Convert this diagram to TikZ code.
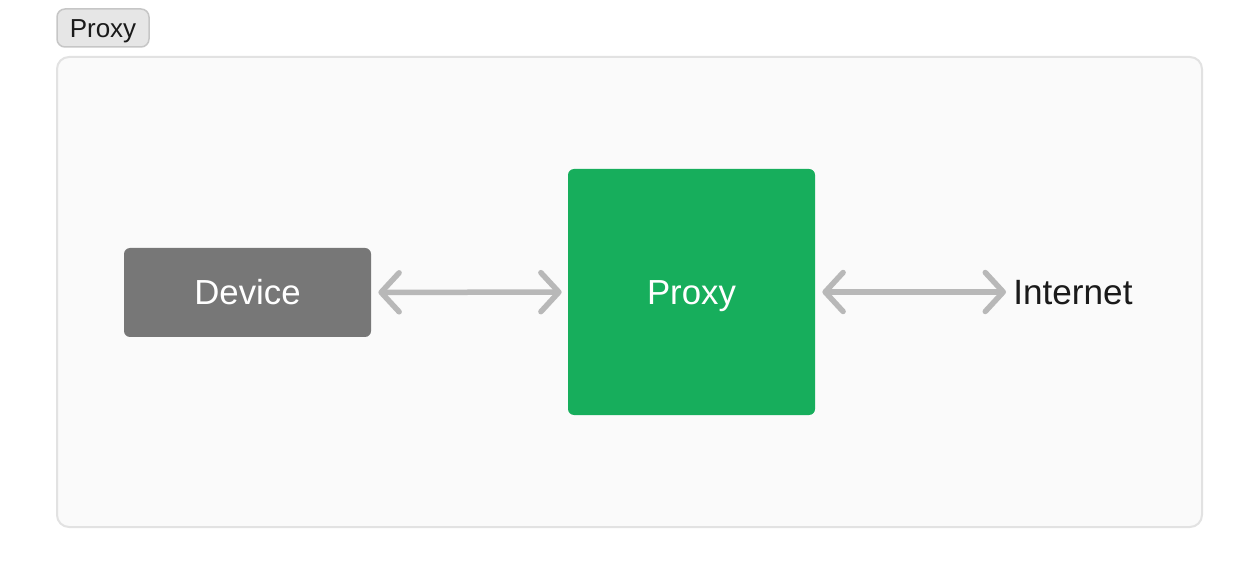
\documentclass[tikz,border=0pt]{standalone}
\usepackage{fontspec}
\setmainfont{Liberation Sans}
\usepackage{tikz}
\usetikzlibrary{arrows.meta,positioning}
\definecolor{khungnen}{HTML}{FAFAFA}
\definecolor{khungvien}{HTML}{E2E2E2}
\definecolor{nhanten}{HTML}{E6E6E6}
\definecolor{nhanvien}{HTML}{C6C6C6}
\definecolor{thietbi}{HTML}{777777}
\definecolor{proxyxanh}{HTML}{17AE5C}
\definecolor{muiten}{HTML}{B8B8B8}
\definecolor{chuden}{HTML}{1A1A1A}

\begin{document}
\begin{tikzpicture}[
		hop/.style={minimum width=4.94cm,rounded corners=0.12cm,inner sep=0pt,text=white,text height=14.2pt,text depth=0pt,font=\fontsize{19.8}{22}\selectfont},
		noi/.style={muiten,line width=0.11cm,{Straight Barb[round,length=3.6mm,width=7.8mm]}-{Straight Barb[round,length=3.6mm,width=7.8mm]}}]
	\useasboundingbox (0,0) rectangle (25.2,-11.7);
	\draw [khungvien,fill=khungnen,line width=0.04cm,rounded corners=0.24cm] (1.14,-1.14) rectangle (24.04,-10.54);
	\node [draw=nhanvien,fill=nhanten,line width=0.03cm,rounded corners=0.16cm,minimum width=1.84cm,minimum height=0.76cm,inner sep=0pt,text=chuden,text height=10.6pt,text depth=0pt,font=\fontsize{14.8}{16}\selectfont] (nhan) at (2.06,-0.56) {Proxy};
	
	\node [hop,fill=thietbi,minimum height=1.78cm] (device) at (4.95,-5.85) {Device};
	\node [hop,fill=proxyxanh,minimum height=4.92cm] (proxy) at (13.83,-5.84) {Proxy};
	\node [anchor=west,inner sep=0pt,text=chuden,font=\fontsize{20}{22}\selectfont] (internet) at (20.26,-5.86) {Internet};
	
	\draw [noi,shorten <=0.14cm,shorten >=0.12cm] (device) -- (proxy);
	\draw [noi,shorten <=0.14cm,shorten >=0.14cm] (proxy) -- (internet.west |- proxy);
\end{tikzpicture}
\end{document}
